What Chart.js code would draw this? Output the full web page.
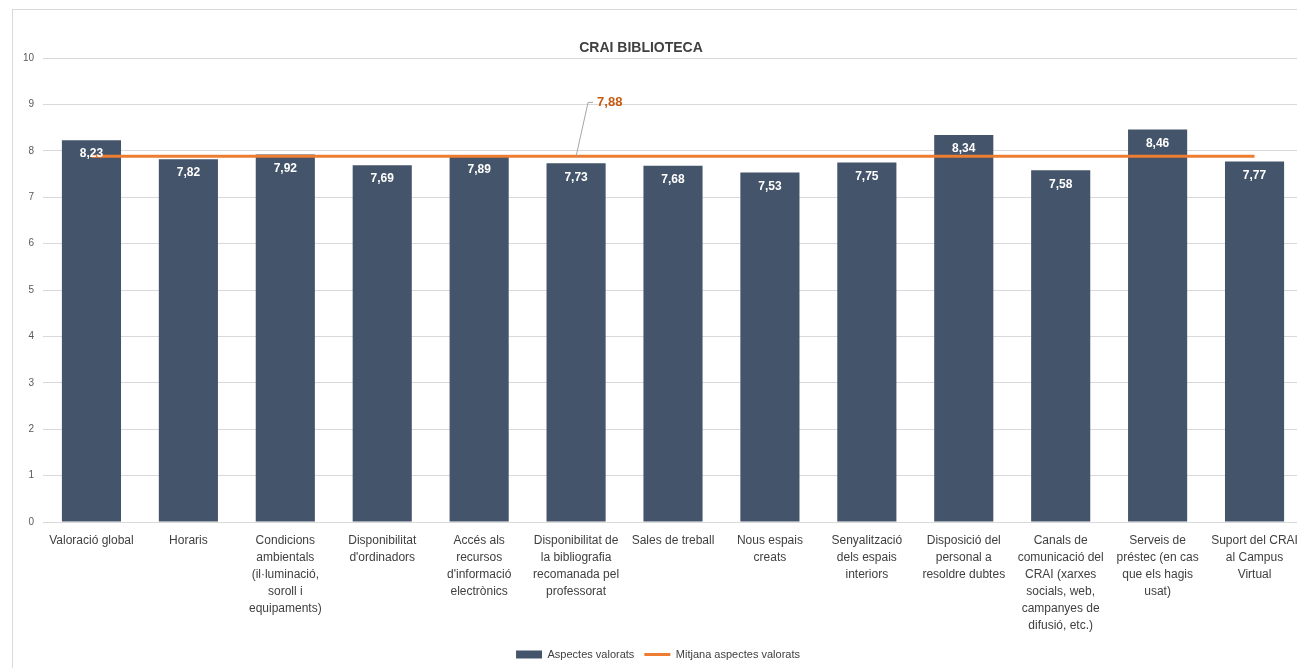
<!DOCTYPE html>
<html>
<head>
<meta charset="utf-8">
<script src="https://cdn.jsdelivr.net/npm/chart.js@4/dist/chart.umd.min.js"></script>
<style>
  body { margin: 0; background: #fff; overflow: hidden; }
  #wrap { position: absolute; left: 12px; top: 9px; width: 1300px; height: 660px;
          border-left: 1px solid #d9d9d9; border-top: 1px solid #d9d9d9; }
</style>
</head>
<body>
<div id="wrap"><canvas id="barChart"></canvas></div>
<script>
const categories = [
    ['Valoració global'],
    ['Horaris'],
    ['Condicions', 'ambientals', '(il·luminació,', 'soroll i', 'equipaments)'],
    ['Disponibilitat', "d'ordinadors"],
    ['Accés als', 'recursos', "d'informació", 'electrònics'],
    ['Disponibilitat de', 'la bibliografia', 'recomanada pel', 'professorat'],
    ['Sales de treball'],
    ['Nous espais', 'creats'],
    ['Senyalització', 'dels espais', 'interiors'],
    ['Disposició del', 'personal a', 'resoldre dubtes'],
    ['Canals de', 'comunicació del', 'CRAI (xarxes', 'socials, web,', 'campanyes de', 'difusió, etc.)'],
    ['Serveis de', 'préstec (en cas', 'que els hagis', 'usat)'],
    ['Suport del CRAI', 'al Campus', 'Virtual']
];
const valors = [8.23, 7.82, 7.92, 7.69, 7.89, 7.73, 7.68, 7.53, 7.75, 8.34, 7.58, 8.46, 7.77];
const mitjana = [7.88, 7.88, 7.88, 7.88, 7.88, 7.88, 7.88, 7.88, 7.88, 7.88, 7.88, 7.88, 7.88];
const mitjanaLabelIndex = 5;
const yTicks = [0, 1, 2, 3, 4, 5, 6, 7, 8, 9, 10];

const fontFamily = "'Liberation Sans', Arial, sans-serif";
const fmt = v => v.toFixed(2).replace('.', ',');

// etiquetes de valor, títol i crida de la mitjana
const labelsPlugin = {
    id: 'labelsPlugin',
    afterDatasetsDraw(chart) {
        const ctx = chart.ctx;
        ctx.save();
        const bars = chart.getDatasetMeta(0).data;
        ctx.font = 'bold 12px ' + fontFamily;
        ctx.fillStyle = '#ffffff';
        ctx.textAlign = 'center';
        ctx.textBaseline = 'middle';
        bars.forEach((bar, i) => {
            ctx.fillText(fmt(valors[i]), bar.x, bar.y + 14);
        });

        // crida 7,88
        const pt = chart.getDatasetMeta(1).data[mitjanaLabelIndex];
        ctx.strokeStyle = '#a6a6a6';
        ctx.lineWidth = 1;
        ctx.beginPath();
        ctx.moveTo(pt.x, pt.y);
        ctx.lineTo(pt.x + 12, pt.y - 54);
        ctx.lineTo(pt.x + 17, pt.y - 54);
        ctx.stroke();
        ctx.font = 'bold 13px ' + fontFamily;
        ctx.fillStyle = '#C55A11';
        ctx.textAlign = 'left';
        ctx.fillText(fmt(mitjana[mitjanaLabelIndex]), pt.x + 21, pt.y - 54);

        // títol
        ctx.font = 'bold 14px ' + fontFamily;
        ctx.fillStyle = '#404040';
        ctx.textAlign = 'center';
        ctx.fillText('CRAI BIBLIOTECA', 628, 38);
        ctx.restore();
    }
};

const ctx = document.getElementById('barChart').getContext('2d');
new Chart(ctx, {
    data: {
        labels: categories,
        datasets: [{
            type: 'bar',
            label: 'Aspectes valorats',
            data: valors,
            backgroundColor: '#44546A',
            categoryPercentage: 1,
            barPercentage: 0.61,
            pointStyle: 'rect',
            order: 1
        }, {
            type: 'line',
            label: 'Mitjana aspectes valorats',
            data: mitjana,
            borderColor: '#ED7D31',
            backgroundColor: '#ED7D31',
            borderWidth: 3,
            pointRadius: 0,
            pointStyle: 'line',
            order: 0
        }]
    },
    options: {
        responsive: true,
        maintainAspectRatio: false,
        animation: false,
        layout: { padding: { top: 48, right: 10, left: 0, bottom: 0 } },
        scales: {
            x: {
                grid: { display: false, drawTicks: false },
                border: { display: false },
                ticks: {
                    color: '#404040',
                    font: { family: fontFamily, size: 12, lineHeight: 1.42 },
                    padding: 10,
                    maxRotation: 0,
                    autoSkip: false
                },
                afterFit(scale) { scale.height = 117; }
            },
            y: {
                min: 0,
                max: 10,
                afterBuildTicks(scale) { scale.ticks = yTicks.map(v => ({ value: v })); },
                grid: { color: '#d9d9d9', drawTicks: false },
                border: { display: false },
                ticks: {
                    color: '#595959',
                    font: { family: fontFamily, size: 10 },
                    padding: 9
                },
                afterFit(scale) { scale.width = 30; }
            }
        },
        plugins: {
            legend: {
                position: 'bottom',
                labels: {
                    usePointStyle: true,
                    pointStyleWidth: 26,
                    boxHeight: 8,
                    color: '#404040',
                    font: { family: fontFamily, size: 11 },
                    padding: 10,
                    sort: (a, b) => a.datasetIndex - b.datasetIndex
                }
            },
            tooltip: { enabled: false }
        }
    },
    plugins: [labelsPlugin]
});
</script>
</body>
</html>
